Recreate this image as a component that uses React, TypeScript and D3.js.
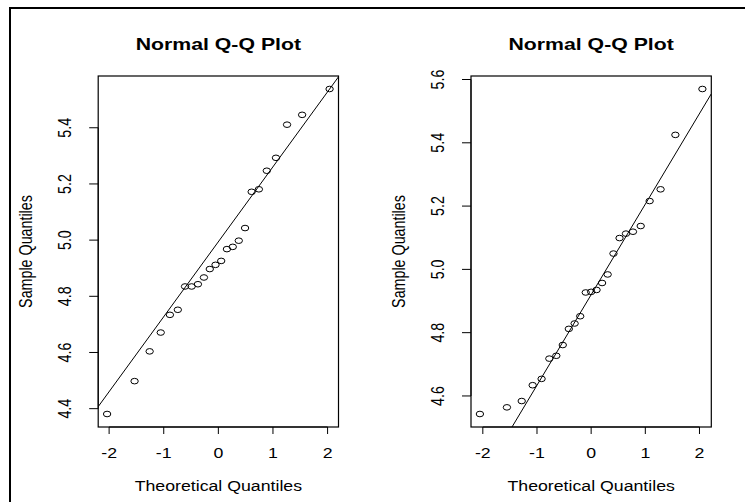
import * as d3 from "d3";

// sample quantiles (sorted, as qqnorm plots them)
const leftSample = [4.381, 4.498, 4.604, 4.671, 4.734, 4.752, 4.835, 4.835, 4.843, 4.867, 4.897, 4.912,
  4.926, 4.968, 4.976, 4.998, 5.043, 5.172, 5.181, 5.247, 5.293, 5.411, 5.446, 5.538];
const rightSample = [4.543, 4.564, 4.584, 4.634, 4.654, 4.718, 4.727, 4.761, 4.812, 4.829, 4.852, 4.927,
  4.929, 4.935, 4.957, 4.984, 5.050, 5.099, 5.113, 5.119, 5.137, 5.216, 5.253, 5.425, 5.570];

// theoretical normal quantiles for n = 24 and n = 25
const leftTheoretical = [-2.037, -1.534, -1.258, -1.055, -0.887, -0.742, -0.610, -0.489, -0.374, -0.264,
  -0.157, -0.052, 0.052, 0.157, 0.264, 0.374, 0.489, 0.610, 0.742, 0.887, 1.055, 1.258, 1.534, 2.037];
const rightTheoretical = [-2.054, -1.555, -1.282, -1.080, -0.915, -0.772, -0.643, -0.524, -0.412, -0.305,
  -0.202, -0.100, 0, 0.100, 0.202, 0.305, 0.412, 0.524, 0.643, 0.772, 0.915, 1.080, 1.282, 1.555, 2.054];

const xTicks = [-2, -1, 0, 1, 2];
const leftYTicks = [4.4, 4.6, 4.8, 5.0, 5.2, 5.4];
const rightYTicks = [4.6, 4.8, 5.0, 5.2, 5.4, 5.6];

const title = "Normal Q-Q Plot";
const xLabel = "Theoretical Quantiles";
const yLabel = "Sample Quantiles";

const FONT = "'Liberation Sans', Arial, Helvetica, sans-serif";
const SX = 1.24; // the picture is stretched sideways
const FS = 14.3;
const Q75 = 0.6745;

interface PanelProps {
  id: string;
  left: number;
  theoretical: number[];
  sample: number[];
  yTicks: number[];
}

function Panel({ id, left, theoretical, sample, yTicks }: PanelProps) {
  const top = 76, bottom = 427, width = 240.3;
  const right = left + width;

  const xLim = d3.max(theoretical, d => Math.abs(d))! * 1.08;
  const x = d3.scaleLinear().domain([-xLim, xLim]).range([left, right]);
  const [yMin, yMax] = d3.extent(sample) as [number, number];
  const pad = (yMax - yMin) * 0.04;
  const y = d3.scaleLinear().domain([yMin - pad, yMax + pad]).range([bottom, top]);

  // qqline through the quartiles
  const q1 = d3.quantileSorted(sample, 0.25)!;
  const q3 = d3.quantileSorted(sample, 0.75)!;
  const slope = (q3 - q1) / (2 * Q75);
  const mid = (q1 + q3) / 2;
  const lineGen = d3.line<number>().x(d => x(d)).y(d => y(mid + slope * d));

  const cx = (left + right) / 2;
  const cy = (top + bottom) / 2;
  const fmt = d3.format(".1f");

  return (
    <g>
      <defs>
        <clipPath id={id}>
          <rect x={left} y={top} width={width} height={bottom - top} />
        </clipPath>
      </defs>
      <text transform={`translate(${cx},50) scale(${SX},1)`} textAnchor="middle"
        fontWeight="bold" fontSize={FS * 1.2} fontFamily={FONT}>{title}</text>

      <path d={lineGen([-xLim, xLim]) || ""} stroke="#000" strokeWidth={1} fill="none" clipPath={`url(#${id})`} />

      {theoretical.map((t, i) => (
        <ellipse key={i} cx={x(t)} cy={y(sample[i])} rx={3.7} ry={2.8}
          fill="none" stroke="#000" strokeWidth={1} />
      ))}

      <rect x={left} y={top} width={width} height={bottom - top} fill="none" stroke="#000" strokeWidth={1.2} />

      {/* x axis */}
      <line x1={x(xTicks[0])} x2={x(xTicks[xTicks.length - 1])} y1={bottom} y2={bottom} stroke="#000" />
      {xTicks.map(t => (
        <g key={t}>
          <line x1={x(t)} x2={x(t)} y1={bottom} y2={bottom + 7} stroke="#000" />
          <text transform={`translate(${x(t)},457.6) scale(${SX},1)`} textAnchor="middle"
            fontSize={FS} fontFamily={FONT}>{String(t)}</text>
        </g>
      ))}
      <text transform={`translate(${cx},490.8) scale(${SX},1)`} textAnchor="middle"
        fontSize={FS} fontFamily={FONT}>{xLabel}</text>

      {/* y axis */}
      <line x1={left} x2={left} y1={y(yTicks[0])} y2={y(yTicks[yTicks.length - 1])} stroke="#000" />
      {yTicks.map(t => (
        <g key={t}>
          <line x1={left - 9} x2={left} y1={y(t)} y2={y(t)} stroke="#000" />
          <text transform={`translate(${left - 27},${y(t)}) scale(${SX},1) rotate(-90)`} textAnchor="middle"
            fontSize={FS} fontFamily={FONT}>{fmt(t)}</text>
        </g>
      ))}
      <text transform={`translate(${left - 66},${cy}) scale(${SX},1) rotate(-90)`} textAnchor="middle"
        fontSize={FS} fontFamily={FONT}>{yLabel}</text>
    </g>
  );
}

export default function App() {
  return (
    <div style={{ position: "absolute", left: 0, top: 0 }}>
      <svg width={745} height={502} style={{ display: "block", background: "#fff" }}>
        <rect x={0} y={0} width={745} height={502} fill="#fff" />
        <rect x={10} y={8} width={760} height={520} fill="none" stroke="#000" strokeWidth={2} />
        <Panel id="clip-left" left={98.2} theoretical={leftTheoretical} sample={leftSample} yTicks={leftYTicks} />
        <Panel id="clip-right" left={471} theoretical={rightTheoretical} sample={rightSample} yTicks={rightYTicks} />
      </svg>
    </div>
  );
}
